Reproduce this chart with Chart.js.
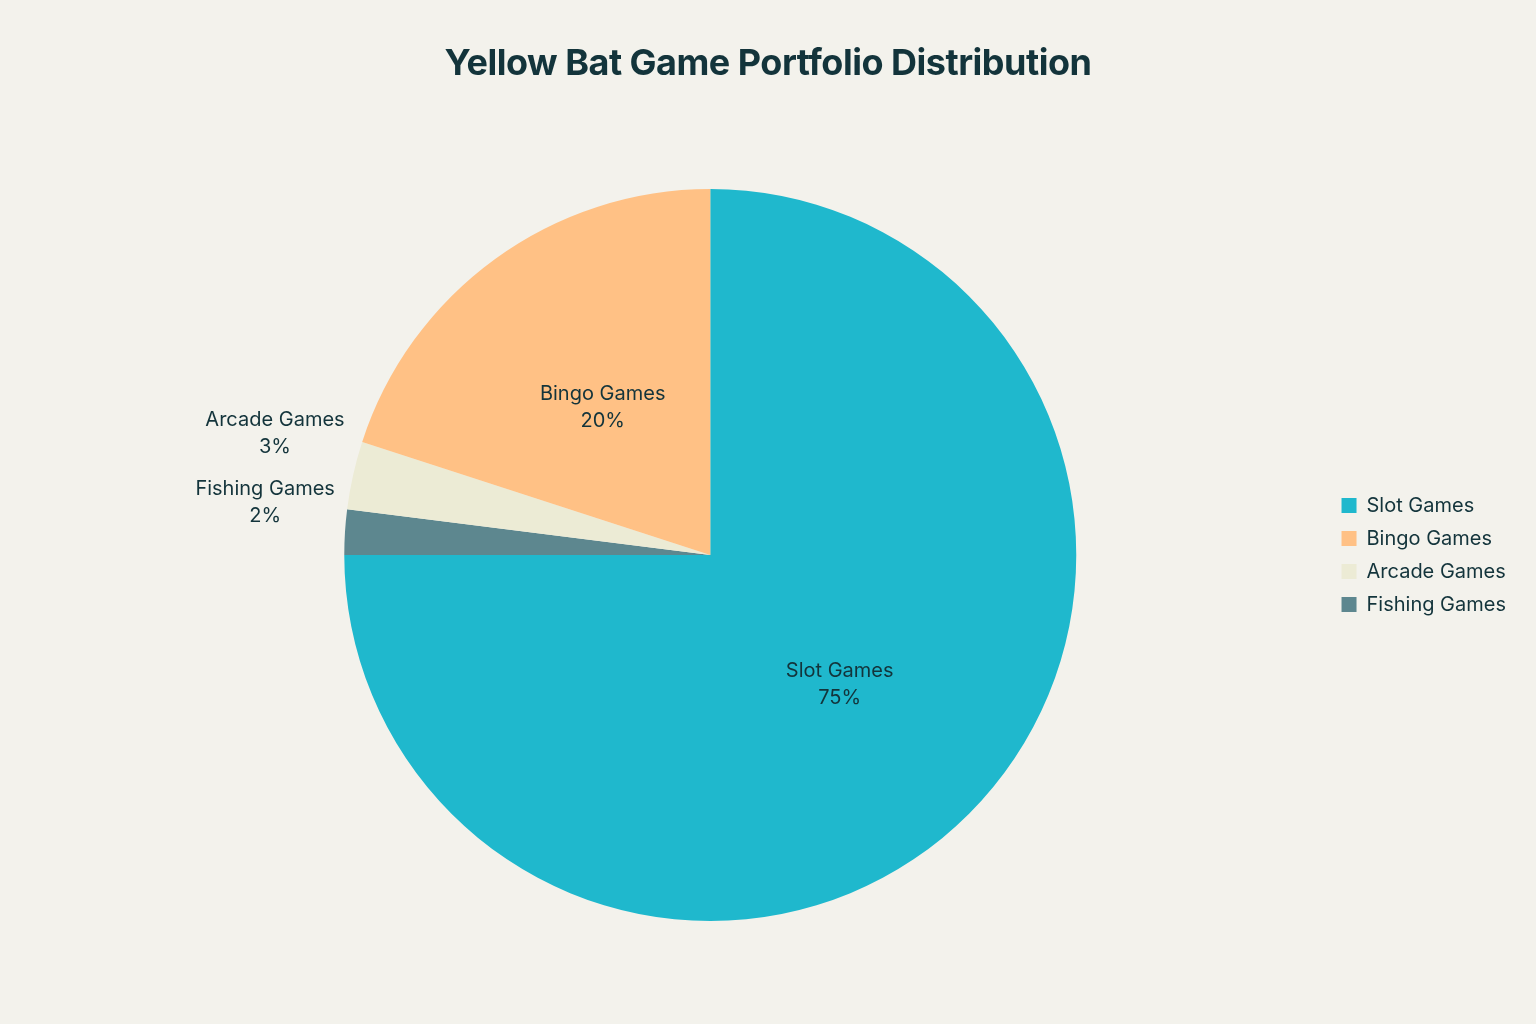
<!DOCTYPE html>
<html>
<head>
<meta charset="utf-8">
<script src="https://cdn.jsdelivr.net/npm/chart.js@4/dist/chart.umd.min.js"></script>
<style>
  body { margin: 0; background: #F3F2EC; }
  #wrap { position: relative; width: 1536px; height: 1024px; }
  h1 { position: absolute; top: 40px; left: 0; width: 1536px; margin: 0; text-align: center;
       font: 700 36px Inter, sans-serif; color: #13343B; letter-spacing: -0.5px; }
</style>
</head>
<body>
<div id="wrap">
  <h1>Yellow Bat Game Portfolio Distribution</h1>
  <canvas id="c" width="1536" height="1024"></canvas>
</div>
<script>
// drawn clockwise from 12 o'clock
const categories = ['Slot Games', 'Fishing Games', 'Arcade Games', 'Bingo Games'];
const shares = [75, 2, 3, 20];
const colors = ['#1FB8CD', '#5D878F', '#ECEBD5', '#FFC185'];
const legendOrder = ['Slot Games', 'Bingo Games', 'Arcade Games', 'Fishing Games'];
const outsideLabels = ['Fishing Games', 'Arcade Games'];

// slice labels: inside for big slices, outside for small ones
const sliceLabels = {
    id: 'sliceLabels',
    afterDatasetsDraw(chart) {
        const ctx = chart.ctx;
        const meta = chart.getDatasetMeta(0);
        ctx.save();
        ctx.font = '20px Inter, sans-serif';
        ctx.fillStyle = '#13343B';
        ctx.textAlign = 'center';
        ctx.textBaseline = 'middle';
        meta.data.forEach((arc, i) => {
            const p = arc.getProps(['x', 'y', 'startAngle', 'endAngle', 'outerRadius'], true);
            const mid = (p.startAngle + p.endAngle) / 2;
            const outside = outsideLabels.includes(categories[i]);
            const r = outside ? p.outerRadius + 80 : p.outerRadius * 0.5;
            let x = p.x + Math.cos(mid) * r;
            let y = p.y + Math.sin(mid) * r;
            if (outside) y -= 25;
            ctx.fillText(categories[i], x, y - 13);
            ctx.fillText(shares[i] + '%', x, y + 14);
        });
        ctx.restore();
    }
};

new Chart(document.getElementById('c'), {
    type: 'pie',
    data: {
        labels: categories,
        datasets: [{ data: shares, backgroundColor: colors, borderWidth: 0 }]
    },
    options: {
        responsive: false,
        animation: false,
        layout: { padding: { top: 189, bottom: 103, left: 92, right: 20 } },
        plugins: {
            tooltip: { enabled: false },
            legend: {
                position: 'right',
                labels: {
                    boxWidth: 15, boxHeight: 15, padding: 13,
                    color: '#13343B',
                    font: { family: 'Inter, sans-serif', size: 20 },
                    sort: (a, b) => legendOrder.indexOf(a.text) - legendOrder.indexOf(b.text)
                }
            }
        }
    },
    plugins: [sliceLabels]
});
</script>
</body>
</html>
